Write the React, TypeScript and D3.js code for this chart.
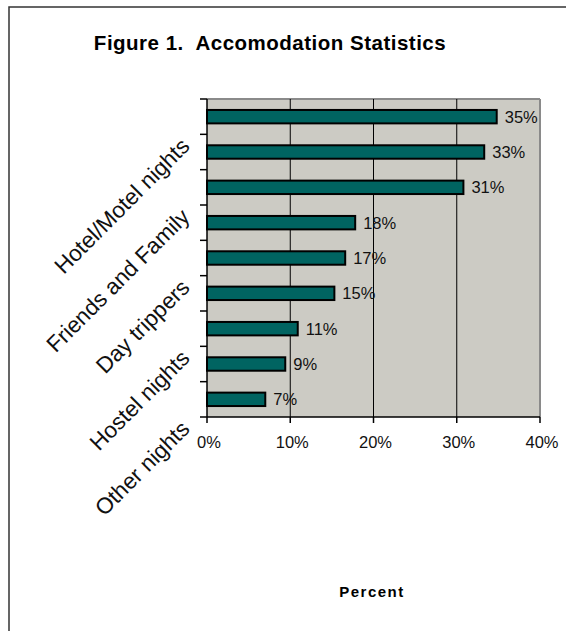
import React from 'react';
import * as d3 from 'd3';

// accommodation shares, top to bottom
const values = [34.8, 33.3, 30.8, 17.8, 16.6, 15.3, 10.9, 9.4, 7.0];
const valueLabels = ['35%', '33%', '31%', '18%', '17%', '15%', '11%', '9%', '7%'];
// only every second category is labelled in the original
const categoryLabels = ['Hotel/Motel nights', 'Friends and Family', 'Day trippers', 'Hostel nights', 'Other nights'];
const labelRows = [0, 2, 4, 6, 8];
const xTicks = [0, 10, 20, 30, 40];

const W = 566;
const H = 631;
const plot = { left: 207, top: 99, right: 540, bottom: 417 };
const FONT = 'Arial, "Liberation Sans", sans-serif';

const App: React.FC = () => {
  const x = d3.scaleLinear().domain([0, 40]).range([plot.left, plot.right]);
  const y = d3.scaleBand<number>()
    .domain(d3.range(values.length))
    .range([plot.top, plot.bottom])
    .paddingInner(0.62)
    .paddingOuter(0.31);
  const step = y.step();
  const boundaries = d3.range(values.length + 1).map(i => plot.top + i * step);

  return (
    <div style={{ position: 'absolute', left: 0, top: 0 }}>
      <svg width={W} height={H} style={{ display: 'block', background: '#fff' }} fontFamily={FONT}>
        {/* outer frame */}
        <rect x={9} y={7} width={700} height={800} fill="none" stroke="#333" strokeWidth={1.5} />

        <text x={270} y={50} textAnchor="middle" fontSize={20.5} fontWeight="bold" letterSpacing={0.5}
          fill="#000" style={{ whiteSpace: 'pre' }}>
          {'Figure 1.  Accomodation Statistics'}
        </text>

        {/* plot area */}
        <rect x={plot.left} y={plot.top} width={plot.right - plot.left} height={plot.bottom - plot.top} fill="#cccbc4" />
        <line x1={plot.left} x2={plot.right} y1={plot.top} y2={plot.top} stroke="#8a8a8a" strokeWidth={2} />
        <line x1={plot.right} x2={plot.right} y1={plot.top} y2={plot.bottom} stroke="#8a8a8a" strokeWidth={2} />

        {/* vertical gridlines */}
        {xTicks.slice(1, -1).map(t => (
          <line key={t} x1={x(t)} x2={x(t)} y1={plot.top} y2={plot.bottom} stroke="#000" strokeWidth={1} />
        ))}

        {/* bars */}
        {values.map((v, i) => (
          <g key={i}>
            <rect
              x={x(0)}
              y={y(i)!}
              width={x(v) - x(0)}
              height={y.bandwidth()}
              fill="#006461"
              stroke="#000"
              strokeWidth={2}
            />
            <text
              x={x(v) + 8}
              y={y(i)! + y.bandwidth() / 2}
              dy="0.36em"
              fontSize={16.5}
              fill="#111"
            >
              {valueLabels[i]}
            </text>
          </g>
        ))}

        {/* axes */}
        <line x1={plot.left} x2={plot.left} y1={plot.top} y2={plot.bottom} stroke="#000" strokeWidth={1.5} />
        <line x1={plot.left} x2={plot.right} y1={plot.bottom} y2={plot.bottom} stroke="#000" strokeWidth={1.5} />
        {boundaries.map((b, i) => (
          <line key={i} x1={plot.left - 7} x2={plot.left} y1={b} y2={b} stroke="#000" strokeWidth={1.5} />
        ))}
        {xTicks.map(t => (
          <g key={t}>
            <line x1={x(t)} x2={x(t)} y1={plot.bottom} y2={plot.bottom + 6} stroke="#000" strokeWidth={1.5} />
            <text x={x(t) + 2} y={plot.bottom + 31} textAnchor="middle" fontSize={16.5} fill="#111">
              {`${t}%`}
            </text>
          </g>
        ))}

        {/* rotated category labels */}
        {categoryLabels.map((lab, k) => {
          const cy = y(labelRows[k])! + y.bandwidth() / 2 + 31;
          const cx = 191;
          return (
            <text
              key={lab}
              x={cx}
              y={cy}
              textAnchor="end"
              fontSize={22.5}
              fill="#111"
              transform={`rotate(-45, ${cx}, ${cy})`}
            >
              {lab}
            </text>
          );
        })}

        <text x={372} y={597} textAnchor="middle" fontSize={15} fontWeight="bold" letterSpacing={1.5} fill="#000">
          Percent
        </text>
      </svg>
    </div>
  );
};

export default App;
